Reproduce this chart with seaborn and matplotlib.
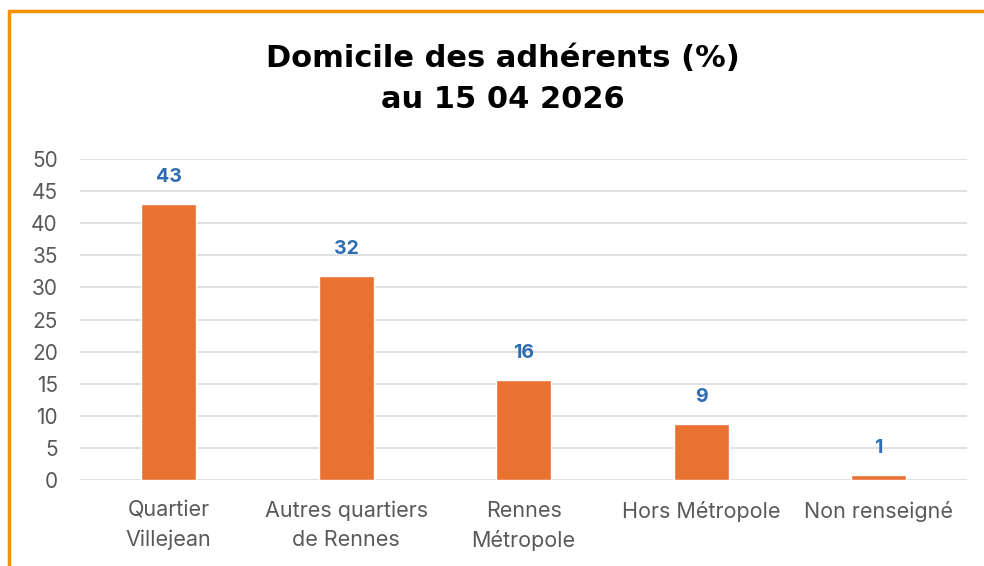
import pandas as pd
import numpy as np
import matplotlib.pyplot as plt
import seaborn as sns
from matplotlib.lines import Line2D

sns.set_style("white")
plt.rcParams['font.family'] = ['Inter', 'DejaVu Sans']

categories = ["Quartier\nVillejean", "Autres quartiers\nde Rennes", "Rennes\nMétropole",
              "Hors Métropole", "Non renseigné"]
values = [43.0, 31.8, 15.5, 8.7, 0.7]
yticks = [0, 5, 10, 15, 20, 25, 30, 35, 40, 45, 50]

df = pd.DataFrame({"domicile": categories, "pct": values})

fig = plt.figure(figsize=(9.84, 5.66), dpi=100)
ax = fig.add_axes([0.0813, 0.152, 0.9017, 0.567])

sns.barplot(data=df, x="domicile", y="pct", color="#E97132", width=0.31,
            saturation=1, ax=ax)

ax.set_ylim(0, 50)
ax.set_xlim(-0.5, 4.5)
ax.set_yticks(yticks)
ax.yaxis.grid(True, color="#D9D9D9", linewidth=1.1)
ax.set_axisbelow(True)
for s in ax.spines.values():
    s.set_visible(False)
ax.set_xlabel("")
ax.set_ylabel("")
ax.tick_params(axis="both", length=0, colors="#595959")
ax.tick_params(axis="x", pad=15, labelsize=15.5)
ax.tick_params(axis="y", pad=16, labelsize=15)
for lbl in ax.get_xticklabels():
    lbl.set_linespacing(1.55)

ax.bar_label(ax.containers[0], fmt="%.0f", padding=13, color="#2E6DB4",
             fontsize=14, fontweight="bold")

fig.text(0.511, 0.8604, "Domicile des adhérents (%)\nau 15 04 2026", ha="center", va="center",
         fontsize=22, fontweight="bold", color="black", linespacing=1.5,
         family=["DejaVu Sans"])

# orange frame from the original spreadsheet chart
fig.add_artist(Line2D([0.009, 1.0], [0.981, 0.981], color="#F39200", linewidth=2.5,
                      transform=fig.transFigure))
fig.add_artist(Line2D([0.009, 0.009], [0.0, 0.981], color="#F39200", linewidth=2.5,
                      transform=fig.transFigure))

fig.savefig("out.png", dpi=100)
